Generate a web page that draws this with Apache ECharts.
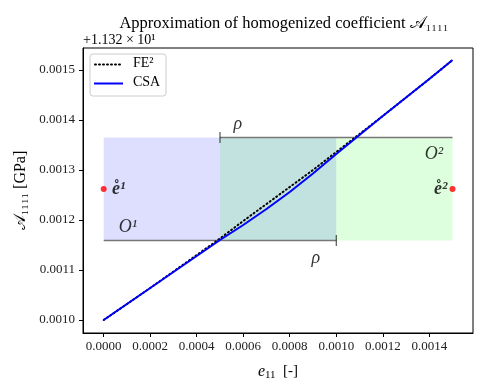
<!DOCTYPE html>
<html>
<head>
<meta charset="utf-8">
<script src="https://cdn.jsdelivr.net/npm/echarts@6/dist/echarts.min.js"></script>
<style>html,body{margin:0;padding:0;background:#fff}#c{width:488px;height:391px}</style>
</head>
<body>
<div id="c"></div>
<script>
// ---- data (values are offset by +11.32) ----
const strain = [0, 0.0001, 0.0002, 0.0003, 0.0004, 0.0005, 0.0006, 0.0007, 0.0008, 0.0009, 0.0010, 0.0011, 0.0012, 0.0013, 0.0014, 0.0015];
const fe2Values = [0.001000, 0.001032, 0.001064, 0.001097, 0.001130, 0.001163, 0.001198, 0.001232, 0.001266, 0.001300, 0.001336, 0.001372, 0.001408, 0.001445, 0.001482, 0.001520];
const csaValues = [0.001000, 0.001032, 0.001064, 0.001096, 0.001128, 0.001160, 0.001190, 0.001222, 0.001256, 0.001293, 0.001332, 0.001370, 0.001408, 0.001445, 0.001482, 0.001520];
const xTicks = [0, 0.0002, 0.0004, 0.0006, 0.0008, 0.0010, 0.0012, 0.0014];
const yTicks = [0.0010, 0.0011, 0.0012, 0.0013, 0.0014, 0.0015];
const centersX = [0, 0.0015];
const centerY = 0.001262;
const rho = 0.001;
const regionLow = 0.001159;
const regionHigh = 0.001365;
const legendNames = ['FE²', 'CSA'];

const serif = '"Liberation Serif", "DejaVu Serif", serif';
const chart = echarts.init(document.getElementById('c'), null, {renderer: 'canvas'});

const fe2Data = strain.map((x, i) => [x, fe2Values[i]]);
const csaData = strain.map((x, i) => [x, csaValues[i]]);

chart.setOption({
  animation: false,
  backgroundColor: '#fff',
  title: {
    text: 'Approximation of homogenized coefficient 𝒜₁₁₁₁',
    left: 279, top: 10, textAlign: 'center',
    textStyle: {fontFamily: serif, fontSize: 16.5, fontWeight: 'normal', color: '#000'}
  },
  graphic: [
    {type: 'text', left: 83, top: 33, z: 20,
     style: {text: '+1.132 × 10¹', fontFamily: serif, fontSize: 14, fill: '#000'}},
    {type: 'rect', shape: {x: 90, y: 54, width: 76, height: 42, r: 3}, z: 20,
     style: {fill: 'rgba(255,255,255,0.8)', stroke: '#cccccc', lineWidth: 1}},
    {type: 'line', shape: {x1: 95, y1: 64.5, x2: 123, y2: 64.5}, z: 21,
     style: {stroke: '#000', lineWidth: 2, lineDash: [1, 3], lineCap: 'round'}},
    {type: 'line', shape: {x1: 94, y1: 83.5, x2: 123, y2: 83.5}, z: 21,
     style: {stroke: '#0000ff', lineWidth: 2}},
    {type: 'text', left: 133, top: 56, z: 21,
     style: {text: legendNames[0], fontFamily: serif, fontSize: 14, fill: '#000'}},
    {type: 'text', left: 133, top: 75, z: 21,
     style: {text: legendNames[1], fontFamily: serif, fontSize: 14, fill: '#000'}}
  ],
  grid: {left: 83, right: 15, top: 48, bottom: 58, show: true, borderColor: '#000', borderWidth: 1, containLabel: false},
  xAxis: {
    type: 'value', min: -0.000089, max: 0.001588,
    axisLine: {show: true, onZero: false, lineStyle: {color: '#000', width: 1}},
    axisTick: {show: true, customValues: xTicks, length: 4, lineStyle: {color: '#000'}},
    axisLabel: {customValues: xTicks, formatter: v => v.toFixed(4), fontFamily: serif, fontSize: 13, color: '#222', margin: 7},
    splitLine: {show: false},
    name: '{i|e}{s|11}  [-]', nameLocation: 'middle', nameGap: 29,
    nameTextStyle: {fontFamily: serif, fontSize: 15, color: '#000',
      rich: {i: {fontFamily: serif, fontStyle: 'italic', fontSize: 16, color: '#000'},
             s: {fontFamily: serif, fontSize: 11, color: '#000', padding: [8, 0, 0, 0]}}}
  },
  yAxis: {
    type: 'value', min: 0.000974, max: 0.001544,
    axisLine: {show: true, onZero: false, lineStyle: {color: '#000', width: 1}},
    axisTick: {show: true, customValues: yTicks, length: 4, lineStyle: {color: '#000'}},
    axisLabel: {customValues: yTicks, formatter: v => v.toFixed(4), fontFamily: serif, fontSize: 13, color: '#222', margin: 8},
    splitLine: {show: false},
    name: '𝒜₁₁₁₁ [GPa]', nameLocation: 'middle', nameGap: 50, nameRotate: 90,
    nameTextStyle: {fontFamily: serif, fontSize: 16, color: '#000'}
  },
  series: [
    {
      type: 'line', name: 'regions', data: [], silent: true, z: 1,
      markArea: {
        silent: true,
        data: [
          [{xAxis: centersX[0], yAxis: regionLow, itemStyle: {color: 'rgba(0,0,255,0.13)'}}, {xAxis: centersX[0] + rho, yAxis: regionHigh}],
          [{xAxis: centersX[1] - rho, yAxis: regionLow, itemStyle: {color: 'rgba(0,255,0,0.13)'}}, {xAxis: centersX[1], yAxis: regionHigh}]
        ]
      }
    },
    {
      type: 'line', name: 'rhoLow', data: [[centersX[0], regionLow], [centersX[0] + rho, regionLow]],
      symbol: 'none', lineStyle: {color: '#777', width: 1.5}, z: 2, silent: true
    },
    {
      type: 'line', name: 'rhoHigh', data: [[centersX[1] - rho, regionHigh], [centersX[1], regionHigh]],
      symbol: 'none', lineStyle: {color: '#777', width: 1.5}, z: 2, silent: true
    },
    {
      type: 'scatter', name: 'caps', data: [[centersX[0] + rho, regionLow], [centersX[1] - rho, regionHigh]],
      symbol: 'rect', symbolSize: [1, 11], itemStyle: {color: '#000'}, z: 3, silent: true
    },
    {
      type: 'scatter', name: 'labels', symbolSize: 0, silent: true, z: 6,
      data: [
        {value: [0.000577, 0.001392], label: {show: true, formatter: 'ρ', fontStyle: 'italic', fontSize: 18}},
        {value: [0.000912, 0.001124], label: {show: true, formatter: 'ρ', fontStyle: 'italic', fontSize: 18}},
        {value: [0.000104, 0.001186], label: {show: true, formatter: 'O¹', fontStyle: 'italic', fontSize: 18}},
        {value: [0.001420, 0.001331], label: {show: true, formatter: 'O²', fontStyle: 'italic', fontSize: 18}},
        {value: [0.000036, 0.001262], label: {show: true, formatter: 'e̊¹', fontStyle: 'italic', fontWeight: 'bold', fontSize: 18, align: 'left'}},
        {value: [0.001478, 0.001262], label: {show: true, formatter: 'e̊²', fontStyle: 'italic', fontWeight: 'bold', fontSize: 18, align: 'right'}}
      ],
      label: {position: 'inside', fontFamily: serif, color: '#000'}
    },
    {
      type: 'line', name: 'FE²', data: fe2Data, symbol: 'none', showSymbol: false, z: 4,
      lineStyle: {color: '#000', width: 2, type: [1, 3], cap: 'round'}, itemStyle: {color: '#000'}
    },
    {
      type: 'line', name: 'CSA', data: csaData, symbol: 'none', showSymbol: false, z: 5,
      lineStyle: {color: '#0000ff', width: 2}, itemStyle: {color: '#0000ff'}
    },
    {
      type: 'scatter', name: 'centers', data: centersX.map(x => [x, centerY]),
      symbolSize: 6, itemStyle: {color: '#ff0000'}, z: 7, silent: true
    }
  ]
});
</script>
</body>
</html>
